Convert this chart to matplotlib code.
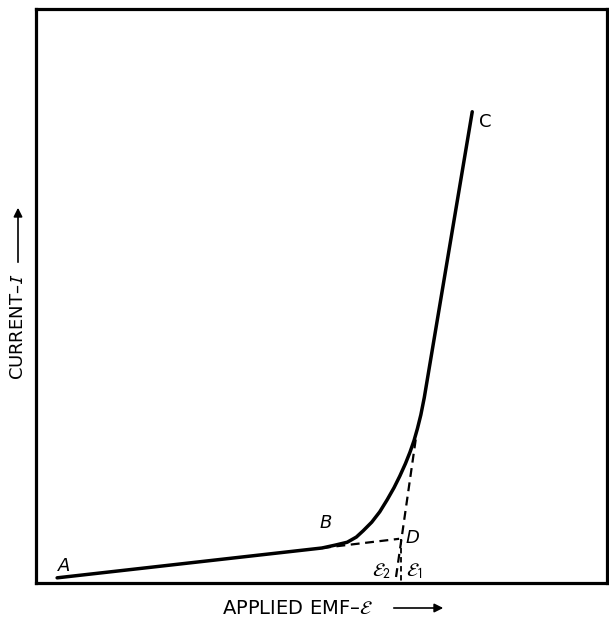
import matplotlib.pyplot as plt

plt.rcParams["font.family"] = ["DejaVu Sans"]
plt.rcParams["mathtext.fontset"] = "stixsans"

# I-E curve (arbitrary units, 0-100 on both axes)
emf = [3.7, 50.1, 52.4, 54.5, 56.1, 57.3, 58.8, 60.2, 61.5, 62.7,
       63.7, 64.7, 65.5, 66.2, 66.8, 67.4, 68.0, 76.4]
current = [0.9, 6.1, 6.6, 7.1, 8.0, 9.1, 10.6, 12.4, 14.5, 16.6,
           18.6, 20.8, 22.8, 24.8, 26.9, 29.3, 32.3, 82.1]

# construction lines
tangent_x = [66.5, 62.9]
tangent_y = [25.0, 0.0]
bd_x = [50.1, 63.6]
bd_y = [6.1, 7.7]
e1_x = [64.0, 64.0]
e1_y = [7.7, 0.0]

# point labels: (text, x, y, style)
point_labels = [
    ("A", 5.0, 3.0, "italic"),
    ("B", 50.8, 10.5, "italic"),
    ("C", 78.6, 80.3, "normal"),
    ("D", 65.9, 7.8, "italic"),
]

fig = plt.figure(figsize=(6.09, 6.17), dpi=100)
ax = fig.add_axes([36 / 609, 34 / 617, 571 / 609, 574 / 617])
ax.set_xlim(0, 100)
ax.set_ylim(0, 100)
ax.set_xticks([])
ax.set_yticks([])
for s in ax.spines.values():
    s.set_linewidth(2.3)

ax.plot(emf, current, color="black", lw=2.5, solid_capstyle="round", solid_joinstyle="round")
ax.plot(tangent_x, tangent_y, color="black", lw=1.6, ls=(0, (4, 2.5)))
ax.plot(bd_x, bd_y, color="black", lw=1.6, ls=(0, (4, 2.5)))
ax.plot(e1_x, e1_y, color="black", lw=1.3, ls=(0, (3, 2)))

for txt, x, y, st in point_labels:
    ax.text(x, y, txt, fontsize=13, style=st, ha="center", va="center")

ax.text(60.6, 2.0, r"$\mathcal{E}_2$", fontsize=14, ha="center", va="center")
ax.text(66.3, 2.0, r"$\mathcal{E}_1$", fontsize=14, ha="center", va="center")

# axis titles with arrows
fig.text(297 / 609, 1 - 608 / 617, r"APPLIED EMF–$\mathcal{E}$", fontsize=14,
         ha="center", va="center")
ax.annotate("", xy=(446 / 609, 1 - 608 / 617), xytext=(391 / 609, 1 - 608 / 617),
            xycoords="figure fraction", textcoords="figure fraction",
            arrowprops=dict(arrowstyle="-|>", lw=1.2, color="black", mutation_scale=13))

fig.text(18 / 609, 1 - 327 / 617, "CURRENT–$I$", fontsize=13, rotation=90,
         ha="center", va="center")
ax.annotate("", xy=(18 / 609, 1 - 205 / 617), xytext=(18 / 609, 1 - 265 / 617),
            xycoords="figure fraction", textcoords="figure fraction",
            arrowprops=dict(arrowstyle="-|>", lw=1.2, color="black", mutation_scale=13))

fig.savefig("out.png", dpi=100)
